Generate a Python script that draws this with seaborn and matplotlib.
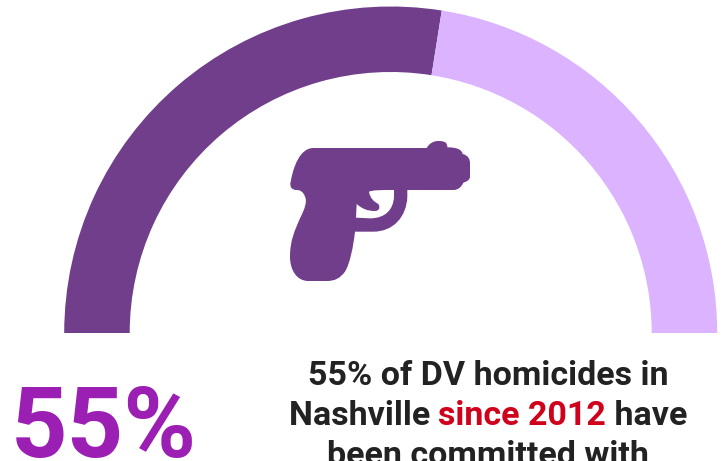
import matplotlib
matplotlib.use("Agg")
import matplotlib.pyplot as plt
from matplotlib.patches import PathPatch
from matplotlib.path import Path
import seaborn as sns

# Share of domestic-violence homicides committed with a firearm
categories = ["Firearm", "Other means"]
shares = [55, 45]
share_label = "55%"
statement_lines = [
    [("55% of DV homicides in", "#222222")],
    [("Nashville ", "#222222"), ("since 2012", "#d0021b"), (" have", "#222222")],
    [("been committed with", "#222222")],
]

PURPLE = "#703e8a"
LILAC = "#dbb3ff"
WIDTH, HEIGHT = 722, 461

sns.set_theme(style="white")
plt.rcParams["font.family"] = ["Roboto", "DejaVu Sans"]

fig = plt.figure(figsize=(WIDTH / 100, HEIGHT / 100), dpi=100)
ax = fig.add_axes([0, 0, 1, 1])

# Half donut: the lower half of the pie is an invisible balancing wedge
wedges, _ = ax.pie(
    shares + [sum(shares)],
    colors=[PURPLE, LILAC, "none"],
    startangle=180,
    counterclock=False,
    center=(390.7, HEIGHT - 333),
    radius=326.5,
    wedgeprops={"width": 65.5, "linewidth": 0},
    frame=True,
)
ax.set_xlim(0, WIDTH)
ax.set_ylim(0, HEIGHT)
ax.set_axis_off()


def to_axes(points):
    """Convert icon drawing units to axes units."""
    return [(270 + x / 3, HEIGHT - (130 + y / 3)) for x, y in points]


def bezier_path(start, segments):
    verts, codes = [start], [Path.MOVETO]
    for seg in segments:
        verts.extend(seg)
        codes.extend([Path.LINETO] if len(seg) == 1 else [Path.CURVE4] * 3)
    return verts, codes


# Pistol icon outline
body_v, body_c = bezier_path((130, 54), [
    [(470, 54)],
    [(478, 40), (490, 33), (505, 33)],
    [(522, 33), (532, 36), (532, 52)],
    [(560, 52), (575, 58), (578, 72)],
    [(595, 76), (600, 88), (600, 100)],
    [(600, 140)],
    [(600, 150), (590, 155), (580, 158)],
    [(575, 170), (565, 180), (550, 180)],
    [(412, 180)],
    [(412, 200)],
    [(410, 260), (370, 305), (310, 305)],
    [(255, 305)],
    [(250, 350), (240, 400), (225, 425)],
    [(210, 445), (195, 453), (170, 453)],
    [(115, 453)],
    [(80, 453), (60, 420), (60, 380)],
    [(60, 330), (75, 300), (90, 265)],
    [(105, 235), (112, 215), (105, 200)],
    [(100, 185), (90, 180), (80, 180)],
    [(65, 180), (58, 170), (62, 155)],
    [(70, 110), (90, 54), (130, 54)],
])

# Trigger guard opening, traced against the outline so it stays empty
guard_v, guard_c = bezier_path((372, 180), [
    [(330, 180), (310, 180), (297, 185)],
    [(300, 205), (312, 215), (325, 222)],
    [(333, 235), (325, 243), (315, 243)],
    [(290, 243), (275, 235), (260, 222)],
    [(258, 263)],
    [(300, 265)],
    [(345, 265), (370, 240), (372, 200)],
    [(372, 180)],
])

icon = Path(to_axes(body_v + guard_v), body_c + guard_c)
ax.add_patch(PathPatch(icon, facecolor=PURPLE, edgecolor="none"))

# Large figure at lower left
ax.text(11, HEIGHT - 456.5, share_label, fontsize=71, fontweight="bold",
        color="#9c1fb3", ha="left", va="baseline")

# Centred statement, assembled run by run so the coloured words stay inline
renderer = fig.canvas.get_renderer()
CENTER_X = 488
for baseline, runs in zip([385, 425, 465], statement_lines):
    pieces = [ax.text(0, HEIGHT - baseline, t, fontsize=24.5, fontweight="bold",
                      color=c, ha="left", va="baseline") for t, c in runs]
    widths = [p.get_window_extent(renderer).width for p in pieces]
    x = CENTER_X - sum(widths) / 2
    for piece, w in zip(pieces, widths):
        piece.set_x(x)
        x += w

fig.savefig("out.png", dpi=100, facecolor="white")
